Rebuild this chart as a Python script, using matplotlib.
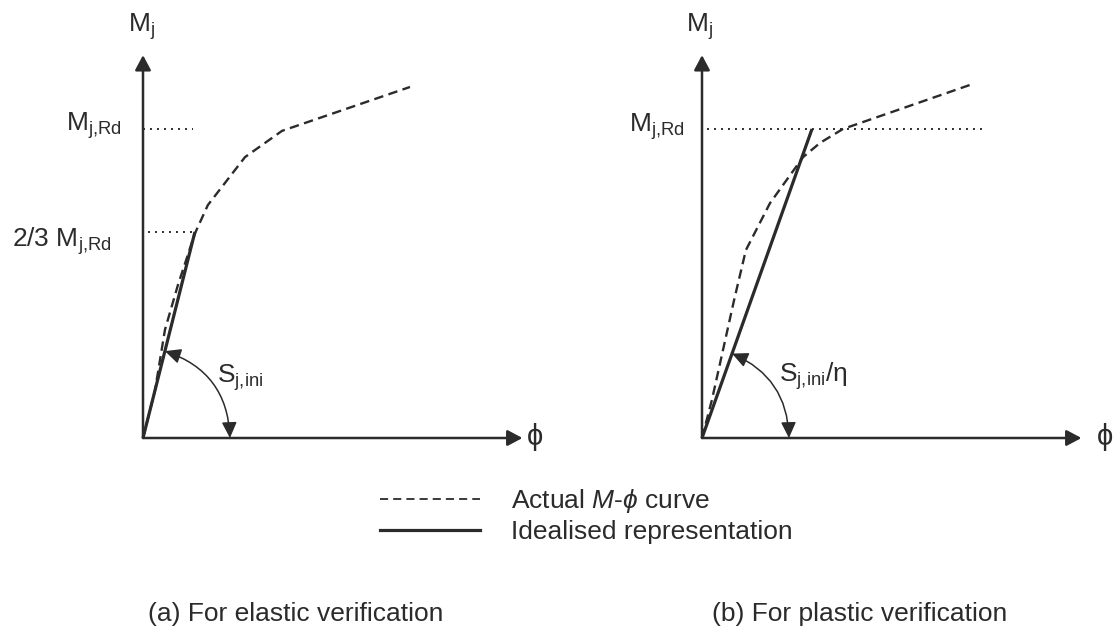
import numpy as np
import matplotlib
matplotlib.use("Agg")
import matplotlib.pyplot as plt
from matplotlib.patches import FancyArrowPatch
from matplotlib.lines import Line2D

plt.rcParams['font.family'] = ['Liberation Sans', 'DejaVu Sans']
plt.rcParams['mathtext.fontset'] = 'custom'
plt.rcParams['mathtext.rm'] = 'Liberation Sans'
plt.rcParams['mathtext.it'] = 'Liberation Sans:italic'
plt.rcParams['mathtext.default'] = 'regular'
plt.rcParams['mathtext.fallback'] = 'stixsans'

## Data - moment M normalised by M_j,Rd, rotation phi in the same relative units
# (a) elastic verification
phi_a_actual = [0, 0.039, 0.071, 0.113, 0.168, 0.210, 0.330, 0.450, 0.864]
m_a_actual = [0, 0.155, 0.350, 0.495, 0.662, 0.754, 0.909, 0.994, 1.136]
phi_a_ideal = [0, 0.168]
m_a_ideal = [0, 2 / 3]
a_levels = [1.0, 2 / 3]
a_level_from = [0.0, 0.016]
a_level_to = [0.162, 0.168]

# (b) plastic verification
phi_b_actual = [0, 0.032, 0.068, 0.104, 0.142, 0.220, 0.327, 0.382, 0.456, 0.877]
m_b_actual = [0, 0.123, 0.285, 0.447, 0.608, 0.760, 0.909, 0.955, 1.0, 1.146]
phi_b_ideal = [0, 0.356]
m_b_ideal = [0, 1.0]
b_levels = [1.0]
b_level_from = [0.016]
b_level_to = [0.922]

phi_axis_len = 1.228
m_axis_len = 1.239
arc_radius = 0.29

## Layout (pixels)
W, H = 1118, 631
S = 309.0          # pixels per unit
BOT = 470          # bottom of the panel axes
ink = '#2b2b2b'

fig = plt.figure(figsize=(W / 100, H / 100), dpi=100)


def fx(x):
    return x / W


def fy(y):
    return 1 - y / H


def make_panel(left_px, right_px, ox, oy):
    ax = fig.add_axes([left_px / W, (H - BOT) / H, (right_px - left_px) / W, BOT / H])
    ax.set_xlim((left_px - ox) / S, (right_px - ox) / S)
    ax.set_ylim((oy - BOT) / S, oy / S)
    ax.axis('off')
    return ax


def draw_panel(ax, phi_act, m_act, phi_id, m_id, levels, lv_from, lv_to):
    # axes with arrow heads
    head = dict(arrowstyle='-|>,head_length=0.75,head_width=0.4', lw=1.8,
                color=ink, shrinkA=0, shrinkB=0, mutation_scale=12)
    ax.annotate('', xy=(phi_axis_len, 0), xytext=(0, 0), arrowprops=head)
    ax.annotate('', xy=(0, m_axis_len), xytext=(0, 0), arrowprops=head)

    # design moment levels
    for lv, a, b in zip(levels, lv_from, lv_to):
        ax.plot([a, b], [lv, lv], color=ink, lw=1.4, linestyle=(0, (1, 2.6)))

    ax.plot(phi_act, m_act, color=ink, lw=1.7, linestyle=(0, (4, 2.3)))
    ax.plot(phi_id, m_id, color=ink, lw=2.3, solid_capstyle='butt')

    # stiffness arc
    th = np.arctan2(m_id[1], phi_id[1])
    arc = FancyArrowPatch((arc_radius * 0.97, 0), (arc_radius * np.cos(th), arc_radius * np.sin(th)),
                          connectionstyle='arc3,rad=%.3f' % np.tan(th / 4),
                          arrowstyle='<|-|>,head_length=0.8,head_width=0.38',
                          mutation_scale=12, lw=1.1, color=ink, shrinkA=0, shrinkB=0)
    ax.add_patch(arc)


ax_a = make_panel(0, 559, 143, 438)
draw_panel(ax_a, phi_a_actual, m_a_actual, phi_a_ideal, m_a_ideal, a_levels, a_level_from, a_level_to)
ax_b = make_panel(559, 1118, 702, 438)
draw_panel(ax_b, phi_b_actual, m_b_actual, phi_b_ideal, m_b_ideal, b_levels, b_level_from, b_level_to)

## Labels
fs = 19
kw = dict(fontsize=fs, color=ink, va='baseline')
fig.text(fx(142), fy(32), r'M$_\mathregular{j}$', ha='center', **kw)
fig.text(fx(700), fy(32), r'M$_\mathregular{j}$', ha='center', **kw)
fig.text(fx(122), fy(131), r'M$_\mathregular{j{,}Rd}$', ha='right', **kw)
fig.text(fx(685), fy(132), r'M$_\mathregular{j{,}Rd}$', ha='right', **kw)
fig.text(fx(112), fy(247), r'2/3 M$_\mathregular{j{,}Rd}$', ha='right', **kw)
fig.text(fx(217), fy(383), r'S$_\mathregular{j{,}ini}$', ha='left', **kw)
fig.text(fx(779), fy(382), r'S$_\mathregular{j{,}ini}$/η', ha='left', **kw)
fig.text(fx(527), fy(437), 'ϕ', ha='left', va='center', fontsize=fs + 2, color=ink)
fig.text(fx(1097), fy(437), 'ϕ', ha='left', va='center', fontsize=fs + 2, color=ink)

## Legend
handles = [Line2D([], [], color=ink, lw=1.3, linestyle=(0, (4.5, 2.8))),
           Line2D([], [], color=ink, lw=2.3)]
labels = [r'Actual $\mathit{M}$-$\mathit{\phi}$ curve', 'Idealised representation']
fig.legend(handles, labels, loc='upper left', bbox_to_anchor=(fx(380), fy(487)),
           frameon=False, fontsize=fs, handlelength=3.8, handletextpad=1.15,
           labelspacing=0.2, borderpad=0, borderaxespad=0, labelcolor=ink)

## Captions
fig.text(fx(148), fy(621), '(a) For elastic verification', ha='left', **kw)
fig.text(fx(712), fy(621), '(b) For plastic verification', ha='left', **kw)

fig.savefig('out.png', dpi=100)
